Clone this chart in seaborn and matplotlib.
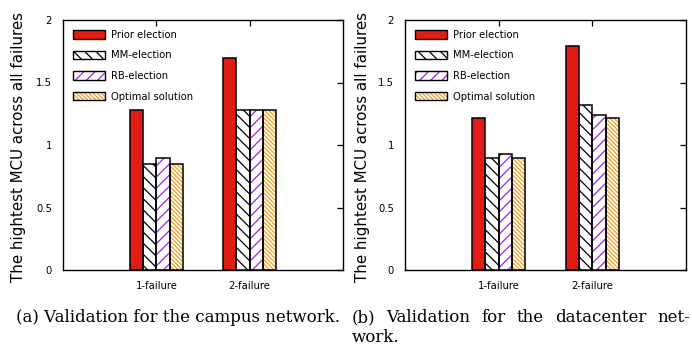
import pandas as pd
import seaborn as sns
import matplotlib.pyplot as plt
from matplotlib.patches import Patch, Rectangle
from matplotlib.legend_handler import HandlerTuple

# Data
scenarios = ['1-failure', '2-failure']
methods = ['Prior election', 'MM-election', 'RB-election', 'Optimal solution']

campus_prior = [1.28, 1.70]
campus_mm = [0.85, 1.28]
campus_rb = [0.90, 1.28]
campus_opt = [0.85, 1.28]

dc_prior = [1.22, 1.79]
dc_mm = [0.90, 1.317]
dc_rb = [0.925, 1.237]
dc_opt = [0.90, 1.22]

ytick_vals = [0, 0.5, 1, 1.5, 2]
ytick_labels = ['0', '0.5', '1', '1.5', '2']
ylabel = 'The hightest MCU across all failures'

# Styles per method
fills = ['#e11c12', 'white', 'white', 'white']
hatches = ['', '\\' * 3, '/' * 3, '\\' * 8]
hatch_colors = ['#e11c12', 'black', '#a020f0', '#f0a020']

W, H = 692, 349


def make_frame(prior, mm, rb, opt):
    rows = []
    for name, vals in zip(methods, [prior, mm, rb, opt]):
        for sc, v in zip(scenarios, vals):
            rows.append({'scenario': sc, 'method': name, 'mcu': v})
    return pd.DataFrame(rows)


def draw_panel(ax, df):
    sns.barplot(data=df, x='scenario', y='mcu', hue='method',
                order=scenarios, hue_order=methods, palette=fills,
                saturation=1, width=0.57, gap=0, legend=False, ax=ax)
    for cont, h, hc in zip(ax.containers, hatches, hatch_colors):
        for p in cont:
            p.set_hatch(h)
            p.set_edgecolor(hc)
            p.set_linewidth(0)
            # black outline on top of the hatched bar
            ax.add_patch(Rectangle((p.get_x(), p.get_y()), p.get_width(),
                                   p.get_height(), fill=False,
                                   edgecolor='black', lw=1.1, zorder=3))
    ax.set_xlim(-1, 2)
    ax.set_ylim(0, 2)
    ax.set_yticks(ytick_vals)
    ax.set_yticklabels(ytick_labels)
    ax.set_xlabel('')
    ax.set_ylabel(ylabel, fontsize=10.8, color='black')
    ax.tick_params(direction='in', length=4.5, width=0.9, labelsize=7.2,
                   top=True, right=True, pad=8, colors='black')
    for s in ax.spines.values():
        s.set_linewidth(1.0)
        s.set_color('black')

    handles = [(Patch(facecolor=f, hatch=h, edgecolor=hc, lw=0),
                Patch(fill=False, edgecolor='black', lw=1.0))
               for f, h, hc in zip(fills, hatches, hatch_colors)]
    ax.legend(handles, methods, loc='upper left', frameon=False,
              fontsize=7.2, handlelength=3.2, handleheight=0.95,
              labelspacing=1.05, handletextpad=0.6, borderaxespad=0.6,
              labelcolor='black',
              handler_map={tuple: HandlerTuple(ndivide=1, pad=0)})


def justify_line(fig, words, x0, x1, y, **kw):
    r = fig.canvas.get_renderer()
    texts = [fig.text(0, y, w, **kw) for w in words]
    widths = [t.get_window_extent(r).width for t in texts]
    gap = ((x1 - x0) - sum(widths)) / (len(words) - 1)
    x = x0
    for t, w in zip(texts, widths):
        t.set_x(x / W)
        x += w + gap


sns.set_style('white')
plt.rcParams['font.family'] = ['DejaVu Sans']
plt.rcParams['text.color'] = 'black'
plt.rcParams['hatch.linewidth'] = 0.9

fig = plt.figure(figsize=(W / 100, H / 100), dpi=100)
ax1 = fig.add_axes([63 / W, 1 - 270 / H, 280 / W, 250 / H])
ax2 = fig.add_axes([405 / W, 1 - 270 / H, 281 / W, 250 / H])

draw_panel(ax1, make_frame(campus_prior, campus_mm, campus_rb, campus_opt))
draw_panel(ax2, make_frame(dc_prior, dc_mm, dc_rb, dc_opt))
ax1.yaxis.set_label_coords(-37 / 280, 0.49)
ax2.yaxis.set_label_coords(-35 / 281, 0.49)

cap = dict(family='DejaVu Serif', fontsize=12.0, va='baseline', color='black')
fig.text(178.5 / W, 1 - 322 / H, '(a) Validation for the campus network.',
         ha='center', **cap)
justify_line(fig, ['(b)', 'Validation', 'for', 'the', 'datacenter', 'net-'],
             352, 690, 1 - 322 / H, ha='left', **cap)
fig.text(352 / W, 1 - 342 / H, 'work.', ha='left', **cap)

fig.savefig('out.png', dpi=100)
